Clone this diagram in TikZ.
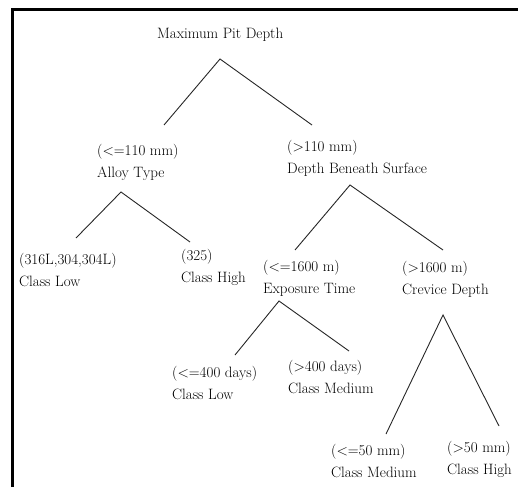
\documentclass[tikz,border=0pt]{standalone}
\usetikzlibrary{positioning}
\tikzset{
  lnode/.style={anchor=base west, align=left, inner sep=0pt, font=\fontsize{15}{21.5}\selectfont},
  branch/.style={line width=0.9pt, black!85},
  frame/.style={line width=3pt},
}

\begin{document}
\begin{tikzpicture}[x=1pt, y=-1pt]
  \useasboundingbox (0,0) rectangle (518,487);
  \draw[frame] (12.8,487) -- (12.8,9.5) -- (518,9.5);
  % split and leaf labels (placed at the baseline of their last line)
  \node[lnode] (root)  at (157,38)  {Maximum Pit Depth};
  \node[lnode] (alloy) at (97,177)  {(\textless=110 mm)\\Alloy Type};
  \node[lnode] (depth) at (287,173) {(\textgreater110 mm)\\Depth Beneath Surface};
  \node[lnode] (ssA)   at (19,286)  {(316L,304,304L)\\Class Low};
  \node[lnode] (ssB)   at (181,282) {(325)\\Class High};
  \node[lnode] (expo)  at (263,293) {(\textless=1600 m)\\Exposure Time};
  \node[lnode] (crev)  at (402,294) {(\textgreater1600 m)\\Crevice Depth};
  \node[lnode] (daysA) at (172,399) {(\textless=400 days)\\Class Low};
  \node[lnode] (daysB) at (288,393) {(\textgreater400 days)\\Class Medium};
  \node[lnode] (mmA)   at (331,477) {(\textless=50 mm)\\Class Medium};
  \node[lnode] (mmB)   at (447,474) {(\textgreater50 mm)\\Class High};
  % forks and branch ends
  \coordinate (root-f)  at (220,59);
  \coordinate (alloy-t) at (164,125);
  \coordinate (depth-t) at (312,125);
  \coordinate (alloy-f) at (121,192);
  \coordinate (ssA-t)   at (76,238);
  \coordinate (ssB-t)   at (190,242);
  \coordinate (depth-f) at (350,185);
  \coordinate (expo-t)  at (295,250);
  \coordinate (crev-t)  at (443,250);
  \coordinate (expo-f)  at (279,301);
  \coordinate (daysA-t) at (235,355);
  \coordinate (daysB-t) at (349,351);
  \coordinate (crev-f)  at (443,315);
  \coordinate (mmA-t)   at (386,434);
  \coordinate (mmB-t)   at (499,426);
  \draw[branch] (alloy-t) -- (root-f) -- (depth-t);
  \draw[branch] (ssA-t) -- (alloy-f) -- (ssB-t);
  \draw[branch] (expo-t) -- (depth-f) -- (crev-t);
  \draw[branch] (daysA-t) -- (expo-f) -- (daysB-t);
  \draw[branch] (mmA-t) -- (crev-f) -- (mmB-t);
\end{tikzpicture}
\end{document}
